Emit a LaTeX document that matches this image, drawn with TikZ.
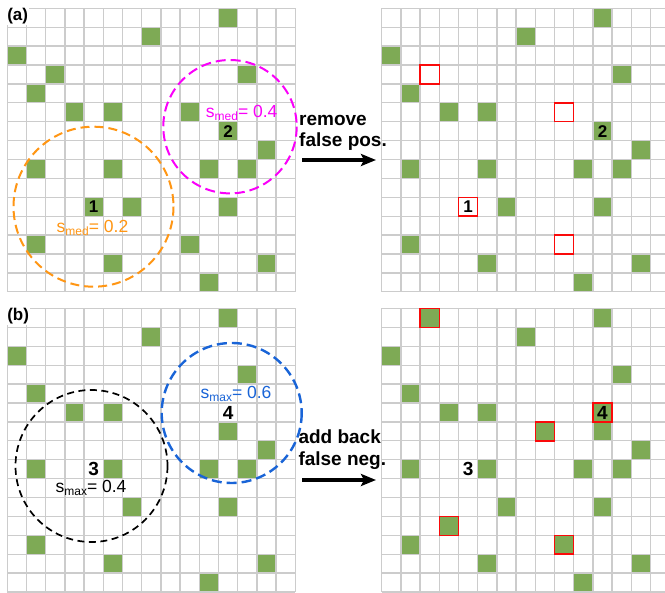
\documentclass[tikz,border=0pt]{standalone}
\usepackage{fontspec}
\setmainfont{Liberation Sans}
\usetikzlibrary{arrows.meta}
\definecolor{gridgray}{RGB}{204,204,204}
\definecolor{cellgreen}{RGB}{126,170,85}
\definecolor{redbox}{RGB}{250,10,10}
\definecolor{orangec}{RGB}{255,150,20}
\definecolor{magentac}{RGB}{250,0,250}
\definecolor{bluec}{RGB}{25,100,215}
\newcommand\cellgrid[3]{%
  \begin{scope}[shift={(#1,#2)},x=19.2pt,y=-18.9pt]
    \foreach \c/\r in {#3} \fill[greencell] (\c,\r) rectangle ++(1,1);
    \foreach \i in {0,...,15} {
      \draw[gridline] (\i,0) -- (\i,15);
      \draw[gridline] (0,\i) -- (15,\i);
    }
  \end{scope}}
\newcommand\redcells[3]{%
  \begin{scope}[shift={(#1,#2)},x=19.2pt,y=-18.9pt]
    \foreach \c/\r in {#3} \draw[redcell] (\c,\r) rectangle ++(1,1);
  \end{scope}}
\begin{document}
\begin{tikzpicture}[x=1pt,y=-1pt,
  gridline/.style={draw=gridgray,line width=1.3pt},
  greencell/.style={fill=cellgreen},
  redcell/.style={draw=redbox,line width=1.5pt},
  numlbl/.style={inner sep=0pt,font=\fontsize{17}{20}\selectfont\bfseries},
  biglbl/.style={inner sep=0pt,font=\fontsize{19}{22}\selectfont\bfseries},
  slbl/.style={inner sep=0pt,anchor=base,font=\fontsize{17.5}{20}\selectfont},
  armtxt/.style={inner sep=0pt,anchor=base west,font=\fontsize{19}{22}\selectfont\bfseries},
  panel/.style={inner sep=0.6pt,anchor=north west,fill=white,font=\fontsize{17}{20}\selectfont\bfseries},
  bigarrow/.style={line width=3.6pt,-{Stealth[length=15pt,width=12pt,inset=3pt]}},
  circ/.style={line width=2pt}]
\useasboundingbox (0,0) rectangle (665,593);
\clip (0,0) rectangle (665,593);
\fill[white] (0,0) rectangle (665,593);

% grid (a) left
\cellgrid{7.3}{8.3}{11/0,7/1,0/2,2/3,12/3,1/4,3/5,5/5,9/5,11/6,13/7,1/8,5/8,10/8,12/8,4/10,6/10,11/10,1/12,9/12,5/13,13/13,10/14}
% grid (a) right
\cellgrid{381.7}{8.3}{11/0,7/1,0/2,12/3,1/4,3/5,5/5,11/6,13/7,1/8,5/8,10/8,12/8,6/10,11/10,1/12,5/13,13/13,10/14}
\redcells{381.7}{8.3}{2/3,9/5,4/10,9/12}
% grid (b) left
\cellgrid{7.3}{308.5}{11/0,7/1,0/2,12/3,1/4,3/5,5/5,11/6,13/7,1/8,5/8,10/8,12/8,6/10,11/10,1/12,5/13,13/13,10/14}
% grid (b) right
\cellgrid{381.7}{308.5}{11/0,7/1,0/2,12/3,1/4,3/5,5/5,11/6,13/7,1/8,5/8,10/8,12/8,6/10,11/10,1/12,5/13,13/13,10/14,2/0,11/5,8/6,3/11,9/12}
\redcells{381.7}{308.5}{2/0,11/5,8/6,3/11,9/12}

% panel labels
\node[panel] (pa) at (6.5,7.5) {(a)};
\node[panel] (pb) at (6.5,307.5) {(b)};

% circles
\draw[circ,orangec,dash pattern=on 9pt off 5pt] (93.5,206.7) circle[radius=80];
\draw[circ,magentac,dash pattern=on 10pt off 5pt] (230,126.7) circle[radius=66.7];
\draw[circ,black,line width=1.7pt,dash pattern=on 7pt off 4.5pt] (91.5,466) circle[radius=76];
\draw[circ,bluec,line width=2.4pt,dash pattern=on 10pt off 5pt] (231.7,413) circle[radius=70];

% cell numbers
\node[numlbl] (n1a) at (93.7,206.8) {1};
\node[numlbl] (n2a) at (228.1,131.1) {2};
\node[numlbl] (n1b) at (468.1,206.8) {1};
\node[numlbl] (n2b) at (602.5,131.1) {2};
\node[biglbl] (n3c) at (93.7,469.2) {3};
\node[biglbl] (n4c) at (228.1,412.5) {4};
\node[biglbl] (n3d) at (468.1,469.2) {3};
\node[biglbl] (n4d) at (602.5,412.5) {4};

% s labels
\node[slbl,text=orangec] (smed1) at (92.5,232.7) {s\raisebox{-3pt}{\fontsize{12}{12}\selectfont med}= 0.2};
\node[slbl,text=magentac] (smed2) at (241.7,117.5) {s\raisebox{-3pt}{\fontsize{12}{12}\selectfont med}= 0.4};
\node[slbl,text=black] (smax1) at (91,492.7) {s\raisebox{-3pt}{\fontsize{12}{12}\selectfont max}= 0.4};
\node[slbl,text=bluec] (smax2) at (236,398.3) {s\raisebox{-3pt}{\fontsize{12}{12}\selectfont max}= 0.6};

% arrow texts
\node[armtxt] (t1) at (299,126) {remove};
\node[armtxt] (t2) at (299,146.7) {false pos.};
\node[armtxt] (t3) at (298.3,444) {add back};
\node[armtxt] (t4) at (298.3,466) {false neg.};

% arrows
\coordinate (a1s) at (302,160);
\coordinate (a1e) at (376,160);
\coordinate (a2s) at (302,480);
\coordinate (a2e) at (376,480);
\draw[bigarrow] (a1s) -- (a1e);
\draw[bigarrow] (a2s) -- (a2e);
\end{tikzpicture}
\end{document}
